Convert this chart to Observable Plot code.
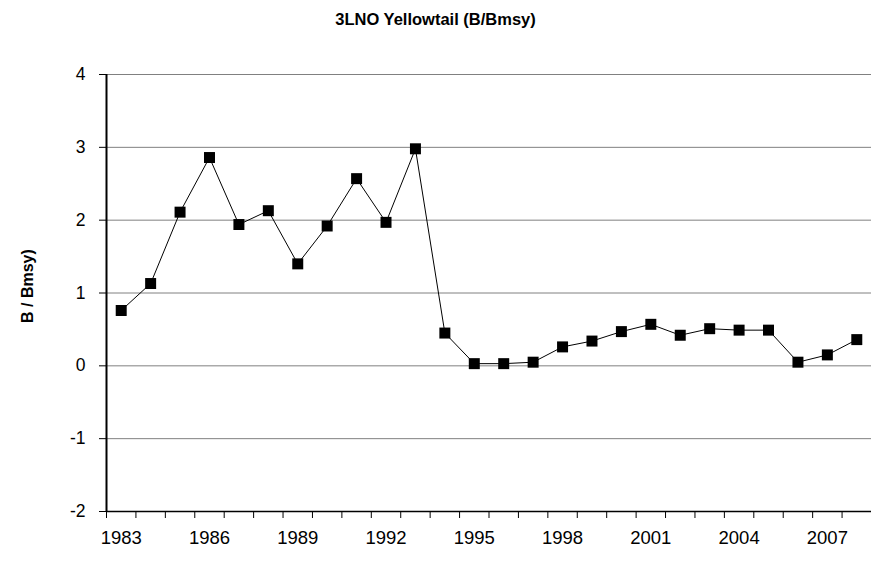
<!DOCTYPE html>
<html><head><meta charset="utf-8">
<script src="https://cdn.jsdelivr.net/npm/d3@7"></script>
<script src="https://cdn.jsdelivr.net/npm/@observablehq/plot@0.6"></script>
<style>
body{margin:0;background:#fff;font-family:"Liberation Sans",Arial,sans-serif}
#title{height:40px;line-height:38px;text-align:center;font-weight:bold;font-size:16.5px;color:#000}
</style></head><body>
<div id="title">3LNO Yellowtail (B/Bmsy)</div>
<div id="chart"></div>
<script>
const years = [1983,1984,1985,1986,1987,1988,1989,1990,1991,1992,1993,1994,1995,1996,1997,1998,1999,2000,2001,2002,2003,2004,2005,2006,2007,2008];
const values = [0.76,1.13,2.11,2.86,1.94,2.13,1.40,1.92,2.57,1.97,2.98,0.45,0.03,0.03,0.05,0.26,0.34,0.47,0.57,0.42,0.51,0.49,0.49,0.05,0.15,0.36];
const yTicks = [-2,-1,0,1,2,3,4];
const xLabelYears = [1983,1986,1989,1992,1995,1998,2001,2004,2007];
const yTitle = "B / Bmsy)";

const data = years.map((year, i) => ({year, value: values[i]}));
const boundaries = years.map(y => y - 0.5).concat([years[years.length - 1] + 0.5]);
const xMin = boundaries[0], xMax = boundaries[boundaries.length - 1];

const chart = Plot.plot({
  width: 871, height: 522,
  marginTop: 34, marginBottom: 51, marginLeft: 106, marginRight: 0,
  style: {fontFamily: "Liberation Sans, Arial, sans-serif", fontSize: "17.5px", color: "#000", background: "#fff"},
  x: {domain: [xMin, xMax], ticks: boundaries, tickFormat: () => "", tickSize: 7, label: null},
  y: {domain: [yTicks[0], yTicks[yTicks.length - 1]], ticks: yTicks, tickFormat: d => String(d), tickSize: 7, tickPadding: 14, label: null},
  marks: [
    Plot.ruleY(yTicks.filter(t => t > yTicks[0]), {stroke: "#808080", strokeWidth: 1}),
    Plot.ruleY([yTicks[0]], {stroke: "#000", strokeWidth: 1.5}),
    Plot.ruleX([xMin], {stroke: "#000", strokeWidth: 2}),
    Plot.line(data, {x: "year", y: "value", stroke: "#000", strokeWidth: 1}),
    Plot.dot(data, {x: "year", y: "value", symbol: "square", fill: "#000", stroke: "none", r: 6.2}),
    Plot.text(xLabelYears, {x: d => d, y: yTicks[0], dy: 27, text: d => String(d), fontSize: 18.5, fill: "#000"}),
    Plot.text([yTitle], {frameAnchor: "left", dx: -79, dy: 30, rotate: -90, fontWeight: "bold", fontSize: 16, fill: "#000"})
  ]
});
document.getElementById("chart").appendChild(chart);
</script>
</body></html>
